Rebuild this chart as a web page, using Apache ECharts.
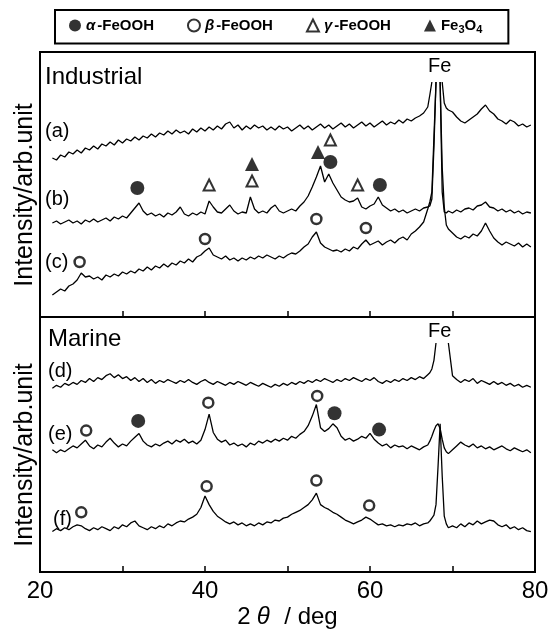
<!DOCTYPE html>
<html>
<head>
<meta charset="utf-8">
<script src="https://cdn.jsdelivr.net/npm/echarts@6/dist/echarts.min.js"></script>
<style>
html, body { margin: 0; padding: 0; background: #fff; }
#main { width: 555px; height: 630px; }
</style>
</head>
<body>
<div id="main"></div>
<script>
// 2theta positions (deg), finer steps across the Fe peak
var twoTheta = [
  21.5, 22, 22.5, 23, 23.5, 24, 24.5, 25, 25.5, 26,
  26.5, 27, 27.5, 28, 28.5, 29, 29.5, 30, 30.5, 31,
  31.5, 32, 32.5, 33, 33.5, 34, 34.5, 35, 35.5, 36,
  36.5, 37, 37.5, 38, 38.5, 39, 39.5, 40, 40.5, 41,
  41.5, 42, 42.5, 43, 43.5, 44, 44.5, 45, 45.5, 46,
  46.5, 47, 47.5, 48, 48.5, 49, 49.5, 50, 50.5, 51,
  51.5, 52, 52.5, 53, 53.5, 54, 54.5, 55, 55.5, 56,
  56.5, 57, 57.5, 58, 58.5, 59, 59.5, 60, 60.5, 61,
  61.5, 62, 62.5, 63, 63.5, 64, 64.5, 65, 65.5, 66,
  66.5, 67,
  67.25, 67.5, 67.75, 68, 68.25, 68.5, 68.75, 69, 69.25, 69.5,
  70, 70.5, 71, 71.5, 72, 72.5, 73, 73.5, 74, 74.5,
  75, 75.5, 76, 76.5, 77, 77.5, 78, 78.5, 79, 79.5
];

// Industrial (upper panel), offset intensity
var curveA = [
  159,157,162,160,165,163,167,164,169,167,
  171,168,173,171,175,172,177,174,178,176,
  180,177,181,179,183,180,184,182,186,183,
  187,184,186,183,188,185,189,186,190,187,
  191,188,193,195,189,192,187,191,188,192,
  189,191,187,190,187,191,188,190,186,189,
  192,188,191,187,190,193,189,192,188,191,
  194,190,193,189,192,195,191,194,190,193,
  196,192,195,193,197,194,198,196,199,201,
  204,210,
  222,235,null,null,null,null,235,214,209,207,
  205,200,196,194,197,200,203,208,212,206,
  203,198,196,193,197,195,191,193,190,192
];
var curveB = [
  94,96,93,95,97,94,96,93,97,95,
  98,95,97,99,96,100,98,101,99,104,
  109,114,106,102,104,101,103,100,104,102,
  105,110,103,101,104,102,105,103,116,110,
  105,104,108,112,106,103,105,104,120,108,
  104,106,104,109,112,106,104,106,108,106,
  111,115,121,130,140,151,135,143,134,127,
  120,117,115,116,119,110,108,111,113,120,
  112,109,106,108,105,107,104,106,108,106,
  109,110,
  111,118,170,235,null,235,125,105,104,106,
  104,107,105,108,109,107,111,112,115,110,
  109,106,108,105,107,104,106,103,105,104
];
var curveC = [
  22,25,28,26,31,33,37,44,40,41,
  38,40,37,42,40,43,41,45,43,46,
  44,48,46,50,47,51,49,53,50,54,
  52,56,54,58,55,60,62,66,69,62,
  60,58,61,57,59,56,59,57,60,58,
  61,59,62,60,58,61,59,62,64,63,
  66,70,73,80,85,74,70,68,66,67,
  65,68,66,70,68,73,77,72,74,76,
  72,75,77,74,78,80,77,83,86,90,
  95,108,
  115,125,180,235,null,235,150,110,92,88,
  84,80,78,81,79,83,81,86,94,86,
  79,75,72,75,73,71,74,70,73,70
];

// Marine (lower panel)
var curveD = [
  191,194,192,196,194,197,195,199,197,201,
  198,202,200,204,206,202,205,201,203,199,
  202,198,201,197,200,196,199,197,200,198,
  196,199,197,200,197,195,198,200,197,195,
  198,196,194,197,195,198,196,194,197,195,
  193,196,194,192,195,193,196,194,197,195,
  198,196,199,197,200,198,201,199,197,200,
  198,201,199,202,200,198,201,199,202,198,
  196,199,197,200,198,201,199,202,200,203,
  201,205,
  207,211,220,238,null,null,null,null,null,238,
  204,200,197,200,198,201,196,199,197,195,
  198,195,197,194,196,193,195,192,194,192
];
var curveE = [
  127,124,127,125,128,131,129,133,137,131,
  128,132,130,135,139,134,130,133,131,136,
  140,144,136,132,130,133,131,134,136,133,
  137,135,138,134,136,133,137,148,164,145,
  138,135,137,132,134,131,133,130,134,132,
  136,134,137,135,138,136,139,137,141,139,
  143,146,152,162,174,150,146,149,154,150,
  141,137,139,136,138,141,139,144,138,134,
  131,133,129,132,130,131,128,131,129,127,
  130,132,
  136,141,147,152,154,149,138,129,125,123,
  127,131,135,132,130,133,129,131,128,130,
  127,129,131,128,126,129,127,125,127,124
];
var curveF = [
  42,45,43,46,44,47,49,48,45,43,
  46,44,47,45,43,47,45,49,47,51,
  53,48,46,44,47,45,48,46,50,48,
  51,53,52,55,57,60,67,79,70,63,
  58,55,52,50,52,49,51,48,50,48,
  51,49,52,51,54,53,56,57,60,62,
  64,67,70,75,82,70,67,65,62,60,
  57,54,52,50,52,54,57,55,52,49,
  50,48,49,47,49,48,50,49,51,48,
  50,51,
  53,56,59,70,110,154,100,58,50,46,
  48,46,50,47,51,49,53,50,52,54,
  53,49,47,49,45,47,44,46,43,42
];

// phase markers [2theta, height]
var alphaTop = [[31.8, 129], [55.2, 155], [61.2, 132]];
var betaTop = [[24.8, 55], [40.0, 78], [53.5, 98], [59.5, 89]];
var gammaTop = [[40.5, 132], [45.7, 136], [55.2, 177], [58.5, 132]];
var magnetiteTop = [[45.7, 153], [53.7, 165]];
var alphaBottom = [[31.9, 157], [55.7, 165], [61.1, 148]];
var betaBottom = [[25.6, 147], [40.4, 176], [53.6, 183], [25.0, 62], [40.2, 89], [53.5, 95], [59.9, 69]];

var xTicks = [20, 40, 60, 80];

var FONT = 'Liberation Sans';

var toPairs = function (vals) {
  var res = [];
  for (var i = 0; i < twoTheta.length; i++) {
    res.push([twoTheta[i], vals[i] == null ? '-' : vals[i]]);
  }
  return res;
};

var lineSeries = function (name, vals, idx) {
  return {
    name: name,
    type: 'line',
    xAxisIndex: idx,
    yAxisIndex: idx,
    data: toPairs(vals),
    symbol: 'none',
    connectNulls: false,
    lineStyle: { color: '#000', width: 1.3 },
    z: 2
  };
};

var solidCircle = { symbol: 'circle', symbolSize: 14, itemStyle: { color: '#000' } };
var openCircle = { symbol: 'circle', symbolSize: 10, itemStyle: { color: '#fff', borderColor: '#000', borderWidth: 2.5 } };
var openTri = { symbol: 'triangle', symbolSize: 11, itemStyle: { color: '#fff', borderColor: '#000', borderWidth: 2 } };
var solidTri = { symbol: 'triangle', symbolSize: 14, itemStyle: { color: '#000' } };

var markSeries = function (name, data, idx, look) {
  return {
    name: name,
    type: 'scatter',
    xAxisIndex: idx,
    yAxisIndex: idx,
    data: data,
    symbol: look.symbol,
    symbolSize: look.symbolSize,
    itemStyle: look.itemStyle,
    z: 5
  };
};

var txt = function (text, x, y, size, rot, align) {
  return {
    type: 'text',
    x: x,
    y: y,
    rotation: rot || 0,
    style: {
      text: text,
      font: size + 'px "' + FONT + '"',
      fill: '#000',
      align: align || 'left',
      verticalAlign: 'middle'
    }
  };
};

var chart = echarts.init(document.getElementById('main'));

chart.setOption({
  animation: false,
  backgroundColor: '#fff',
  legend: {
    left: 55,
    top: 10,
    padding: [8, 26, 8, 14],
    itemGap: 33,
    itemWidth: 12,
    itemHeight: 12,
    borderColor: '#000',
    borderWidth: 2,
    selectedMode: false,
    data: [
      { name: 'α-FeOOH', icon: 'circle' },
      { name: 'β-FeOOH', icon: 'circle' },
      { name: 'γ-FeOOH', icon: 'triangle' },
      { name: 'Fe3O4', icon: 'triangle' }
    ],
    formatter: function (name) {
      if (name === 'Fe3O4') return 'Fe{s|3}O{s|4}';
      return '{g|' + name.charAt(0) + '}' + name.slice(1);
    },
    textStyle: {
      fontFamily: FONT,
      fontWeight: 'bold',
      fontSize: 15,
      color: '#000',
      rich: {
        g: { fontFamily: FONT, fontWeight: 'bold', fontStyle: 'italic', fontSize: 15, color: '#000', padding: [0, 2, 0, 0] },
        s: { fontFamily: FONT, fontWeight: 'bold', fontSize: 11, color: '#000', verticalAlign: 'top', padding: [9, 0, 0, 0] }
      }
    }
  },
  grid: [
    { left: 40, top: 52, width: 495, height: 265, show: true, borderColor: '#000', borderWidth: 2 },
    { left: 40, top: 317, width: 495, height: 265, show: true, borderColor: '#000', borderWidth: 2 }
  ],
  xAxis: [
    {
      type: 'value', gridIndex: 0, min: 20, max: 80, interval: 10,
      axisLine: { show: true, lineStyle: { color: '#000', width: 2 } },
      axisTick: { show: true, inside: true, length: 6, lineStyle: { color: '#000', width: 1.5 } },
      axisLabel: { show: false },
      splitLine: { show: false }
    },
    {
      type: 'value', gridIndex: 1, min: 20, max: 80, interval: 10,
      axisLine: { show: true, lineStyle: { color: '#000', width: 2 } },
      axisTick: { show: true, inside: true, length: 6, lineStyle: { color: '#000', width: 1.5 } },
      axisLabel: {
        show: true, margin: 7, fontFamily: FONT, fontSize: 24, color: '#000',
        formatter: function (v) { return xTicks.indexOf(v) >= 0 ? String(v) : ''; }
      },
      splitLine: { show: false },
      name: '2{g|θ} / deg',
      nameLocation: 'middle',
      nameGap: 33,
      nameTextStyle: {
        fontFamily: FONT, fontSize: 24, color: '#000',
        rich: { g: { fontFamily: FONT, fontSize: 24, fontStyle: 'italic', color: '#000', padding: [0, 8, 0, 6] } }
      }
    }
  ],
  yAxis: [
    { type: 'value', gridIndex: 0, min: 0, max: 265, show: false },
    { type: 'value', gridIndex: 1, min: 0, max: 265, show: false }
  ],
  graphic: [
    txt('Intensity/arb.unit', 25, 195, 25, Math.PI / 2, 'center'),
    txt('Intensity/arb.unit', 25, 455, 25, Math.PI / 2, 'center'),
    txt('Industrial', 45, 77, 24),
    txt('Marine', 48, 339, 24),
    txt('(a)', 45, 131, 20),
    txt('(b)', 45, 199, 20),
    txt('(c)', 45, 262, 20),
    txt('(d)', 48, 371, 20),
    txt('(e)', 48, 434, 20),
    txt('(f)', 53, 519, 20),
    txt('Fe', 428, 66, 20),
    txt('Fe', 428, 331, 20)
  ],
  series: [
    lineSeries('a', curveA, 0),
    lineSeries('b', curveB, 0),
    lineSeries('c', curveC, 0),
    lineSeries('d', curveD, 1),
    lineSeries('e', curveE, 1),
    lineSeries('f', curveF, 1),
    markSeries('α-FeOOH', alphaTop, 0, solidCircle),
    markSeries('β-FeOOH', betaTop, 0, openCircle),
    markSeries('γ-FeOOH', gammaTop, 0, openTri),
    markSeries('Fe3O4', magnetiteTop, 0, solidTri),
    markSeries('α-FeOOH', alphaBottom, 1, solidCircle),
    markSeries('β-FeOOH', betaBottom, 1, openCircle)
  ]
});
</script>
</body>
</html>
